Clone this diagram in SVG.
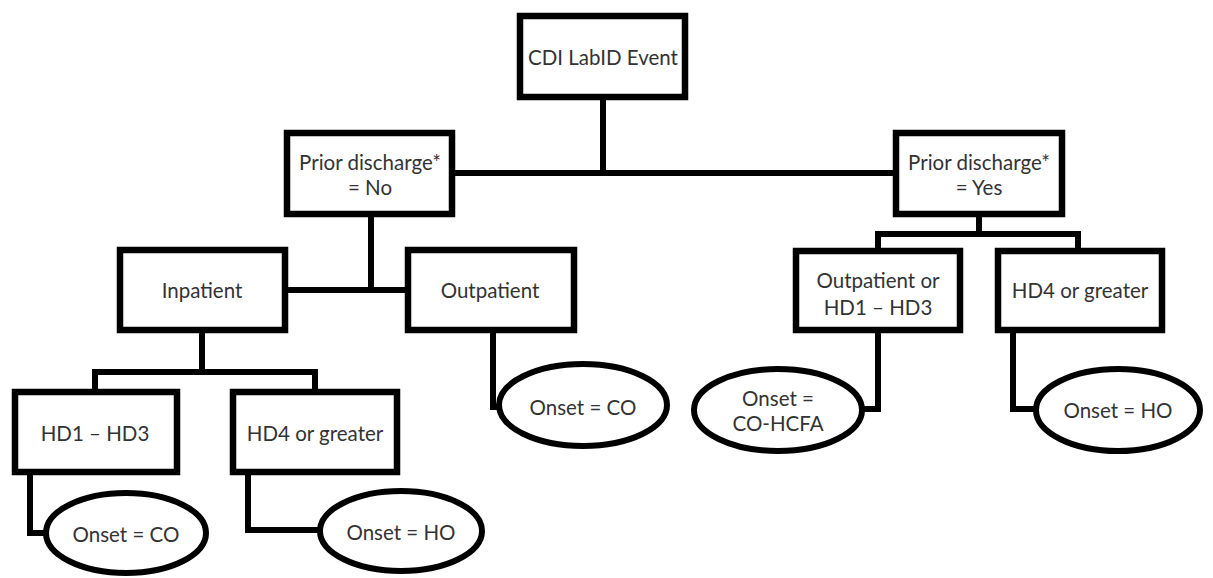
<svg xmlns="http://www.w3.org/2000/svg" width="1213" height="578" viewBox="0 0 1213 578">
<style>
.box{fill:#fff;stroke:#000;stroke-width:6.5;stroke-linejoin:miter}
.ell{fill:#fff;stroke:#000;stroke-width:6}
.ln{fill:none;stroke:#000;stroke-width:6;stroke-linejoin:miter;stroke-linecap:square}
text{font-family:Lato,"Open Sans","Liberation Sans",sans-serif;font-size:20.5px;fill:#333;text-anchor:middle;dominant-baseline:central}
</style>
<rect width="1213" height="578" fill="#fff"/>
<g id="connectors">
<path class="ln" d="M603 100V173M458 173H893"/>
<path class="ln" d="M371 217V290M288 290H405"/>
<path class="ln" d="M979 217V234M878 234H1078M878 234V248M1078 234V248"/>
<path class="ln" d="M202 333V372M95 372H315M95 372V389M315 372V389"/>
<path class="ln" d="M493 333V407H500"/>
<path class="ln" d="M30 475V533H47"/>
<path class="ln" d="M248 475V530H320"/>
<path class="ln" d="M878 333V409H862"/>
<path class="ln" d="M1013 333V409H1037"/>
</g>
<g id="cdi"><rect class="box" x="520" y="16" width="165" height="81"/><text x="603" y="57">CDI LabID Event</text></g>
<g id="prior-no"><rect class="box" x="287" y="133" width="165" height="81"/><text x="370" y="162">Prior discharge*</text><text x="370" y="187">= No</text></g>
<g id="prior-yes"><rect class="box" x="896" y="133" width="166" height="81"/><text x="979" y="162">Prior discharge*</text><text x="979" y="187">= Yes</text></g>
<g id="inpatient"><rect class="box" x="120" y="250" width="165" height="80"/><text x="202" y="290">Inpatient</text></g>
<g id="outpatient"><rect class="box" x="408" y="250" width="166" height="80"/><text x="490" y="290">Outpatient</text></g>
<g id="outpatient-hd1-hd3"><rect class="box" x="796" y="251" width="164" height="79"/><text x="878" y="280">Outpatient or</text><text x="878" y="307">HD1 – HD3</text></g>
<g id="hd4-right"><rect class="box" x="998" y="251" width="164" height="79"/><text x="1080" y="290">HD4 or greater</text></g>
<g id="hd1-hd3"><rect class="box" x="15" y="392" width="162" height="80"/><text x="95" y="433">HD1 – HD3</text></g>
<g id="hd4-left"><rect class="box" x="233" y="392" width="164" height="80"/><text x="315" y="433">HD4 or greater</text></g>
<g id="onset-co-out"><ellipse class="ell" cx="583" cy="405" rx="84" ry="41"/><text x="583" y="407">Onset = CO</text></g>
<g id="onset-cohcfa"><ellipse class="ell" cx="778" cy="410" rx="84" ry="41"/><text x="778" y="398">Onset =</text><text x="778" y="423">CO-HCFA</text></g>
<g id="onset-ho-right"><ellipse class="ell" cx="1118" cy="410" rx="82" ry="41"/><text x="1118" y="410">Onset = HO</text></g>
<g id="onset-co-in"><ellipse class="ell" cx="126" cy="533" rx="80" ry="40"/><text x="126" y="534">Onset = CO</text></g>
<g id="onset-ho-left"><ellipse class="ell" cx="401" cy="531" rx="81" ry="40"/><text x="401" y="532">Onset = HO</text></g>
</svg>
